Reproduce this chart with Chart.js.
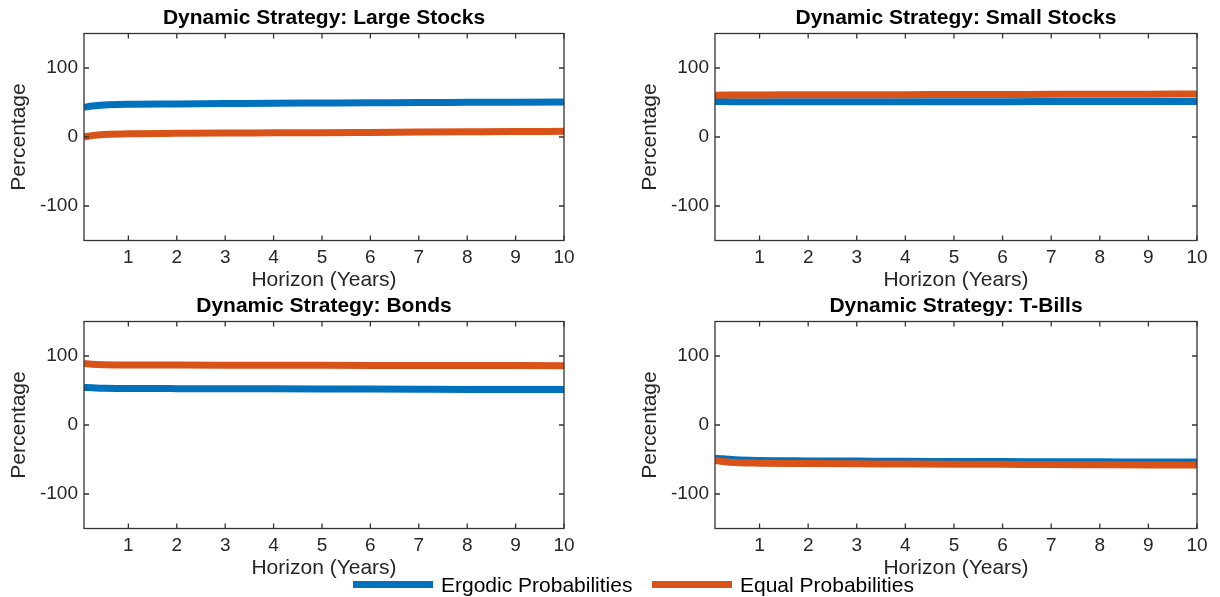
<!DOCTYPE html>
<html lang="en">
<head>
  <meta charset="UTF-8">
  <title>Dynamic Strategy</title>
  <script src="https://cdn.jsdelivr.net/npm/chart.js"></script>
  <style>
    body {
      margin: 0;
      width: 1220px;
      height: 597px;
      overflow: hidden;
      background: #fff;
      font-family: 'Liberation Sans', Arial, Helvetica, sans-serif;
      position: relative;
    }
    canvas { position: absolute; }
    .swatch { position: absolute; height: 7px; }
    .legtext { position: absolute; font-size: 21px; color: #000; line-height: 24px; white-space: nowrap; }
  </style>
</head>
<body>
  <canvas id="c0"></canvas>
  <canvas id="c1"></canvas>
  <canvas id="c2"></canvas>
  <canvas id="c3"></canvas>

  <!-- legend -->
  <div class="swatch" style="left:353px; top:581px; width:80px; background:#0072BD;"></div>
  <div class="legtext" style="left:441px; top:573px;">Ergodic Probabilities</div>
  <div class="swatch" style="left:652px; top:581px; width:80px; background:#D95319;"></div>
  <div class="legtext" style="left:740px; top:573px;">Equal Probabilities</div>

  <script>
    // horizon in years (first point is one month)
    const horizon = [1/12, 0.25, 0.5, 1, 2, 3, 4, 5, 6, 7, 8, 9, 10];
    const xTicks = [1, 2, 3, 4, 5, 6, 7, 8, 9, 10];
    const yTicks = [-100, 0, 100];

    const titles = [
      'Dynamic Strategy: Large Stocks',
      'Dynamic Strategy: Small Stocks',
      'Dynamic Strategy: Bonds',
      'Dynamic Strategy: T-Bills'
    ];
    const seriesNames = ['Ergodic Probabilities', 'Equal Probabilities'];

    const largeErgodic = [43, 45, 46.5, 47.5, 48, 48.5, 49, 49.3, 49.6, 50, 50.2, 50.5, 50.8];
    const largeEqual   = [0, 2, 3.5, 4.8, 5.3, 5.7, 6, 6.3, 6.7, 7.1, 7.5, 7.9, 8.2];
    const smallErgodic = [51.5, 51.3, 51.2, 51, 51, 51.1, 51.1, 51.2, 51.2, 51.3, 51.4, 51.4, 51.5];
    const smallEqual   = [60.5, 60.7, 60.8, 61, 61.1, 61.2, 61.4, 61.5, 61.7, 61.8, 62, 62.1, 62.3];
    const bondsErgodic = [54.5, 54, 53.3, 53, 52.7, 52.5, 52.4, 52.2, 52, 51.8, 51.6, 51.5, 51.3];
    const bondsEqual   = [89, 88, 87.3, 87, 86.8, 86.7, 86.6, 86.5, 86.4, 86.3, 86.2, 86.1, 86];
    const billsErgodic = [-48.5, -49, -50.5, -51.5, -52, -52.3, -52.6, -52.8, -53, -53.2, -53.4, -53.6, -53.8];
    const billsEqual   = [-51.5, -53, -54.5, -55.3, -55.8, -56.2, -56.5, -56.8, -57, -57.2, -57.5, -57.8, -58];

    const panelData = [
      [largeErgodic, largeEqual],
      [smallErgodic, smallEqual],
      [bondsErgodic, bondsEqual],
      [billsErgodic, billsEqual]
    ];

    // canvas placement: chart area left = left + 84, top = top + 33.5
    const panels = [
      { left: 0,   top: 0,   areaW: 480 },
      { left: 631, top: 0,   areaW: 482 },
      { left: 0,   top: 288, areaW: 480 },
      { left: 631, top: 288, areaW: 482 }
    ];

    const colors = ['#0072BD', '#D95319'];
    const axisColor = '#333333';
    const textColor = '#262626';
    const font = "'Liberation Sans', Arial, Helvetica, sans-serif";

    // box, inward ticks on all four sides, and the panel title
    const framePlugin = {
      id: 'frame',
      afterDatasetsDraw(chart, args, opts) {
        const { ctx, chartArea: a, scales: { x, y } } = chart;
        const len = 5;
        ctx.save();
        ctx.strokeStyle = axisColor;
        ctx.lineWidth = 1.3;
        ctx.beginPath();
        x.ticks.forEach(t => {
          const px = x.getPixelForValue(t.value);
          ctx.moveTo(px, a.bottom); ctx.lineTo(px, a.bottom - len);
          ctx.moveTo(px, a.top); ctx.lineTo(px, a.top + len);
        });
        y.ticks.forEach(t => {
          const py = y.getPixelForValue(t.value);
          ctx.moveTo(a.left, py); ctx.lineTo(a.left + len, py);
          ctx.moveTo(a.right, py); ctx.lineTo(a.right - len, py);
        });
        ctx.stroke();
        ctx.strokeRect(a.left, a.top, a.right - a.left, a.bottom - a.top);

        ctx.fillStyle = '#000';
        ctx.font = 'bold 21px ' + font;
        ctx.textAlign = 'center';
        ctx.textBaseline = 'middle';
        ctx.fillText(opts.text, (a.left + a.right) / 2, a.top - 15);
        ctx.restore();
      }
    };

    panels.forEach((p, i) => {
      const canvas = document.getElementById('c' + i);
      const spare = 1220 - p.left - 84 - p.areaW;
      const width = 84 + p.areaW + Math.min(spare, 36);
      canvas.width = width;
      canvas.height = 300;
      canvas.style.left = p.left + 'px';
      canvas.style.top = p.top + 'px';

      const datasets = panelData[i].map((vals, k) => ({
        label: seriesNames[k],
        data: horizon.map((h, j) => ({ x: h, y: vals[j] })),
        borderColor: colors[k],
        backgroundColor: colors[k],
        borderWidth: 7,
        borderCapStyle: 'butt',
        pointRadius: 0,
        cubicInterpolationMode: 'monotone',
        fill: false,
        order: k === 0 ? 2 : 1
      }));

      new Chart(canvas.getContext('2d'), {
        type: 'line',
        data: { datasets },
        options: {
          responsive: false,
          animation: false,
          devicePixelRatio: 1,
          layout: { padding: { top: 33.5, left: 0, bottom: 0, right: width - 84 - p.areaW } },
          plugins: {
            legend: { display: false },
            tooltip: { enabled: false },
            frame: { text: titles[i] }
          },
          scales: {
            x: {
              type: 'linear',
              min: horizon[0],
              max: 10,
              grid: { display: false, drawTicks: false },
              border: { display: false },
              afterBuildTicks: s => { s.ticks = xTicks.map(v => ({ value: v })); },
              afterFit: s => { s.height = 59.5; },
              ticks: { color: textColor, padding: 6, maxRotation: 0, font: { family: font, size: 19 } },
              title: {
                display: true, text: 'Horizon (Years)', color: textColor,
                padding: { top: 0, bottom: 7 }, font: { family: font, size: 21 }
              }
            },
            y: {
              min: -150,
              max: 150,
              grid: { display: false, drawTicks: false },
              border: { display: false },
              afterBuildTicks: s => { s.ticks = yTicks.map(v => ({ value: v })); },
              afterFit: s => { s.width = 84; },
              ticks: { color: textColor, padding: 6, font: { family: font, size: 19 } },
              title: {
                display: true, text: 'Percentage', color: textColor,
                padding: { top: 7, bottom: 0 }, font: { family: font, size: 21 }
              }
            }
          }
        },
        plugins: [framePlugin]
      });
    });
  </script>
</body>
</html>
